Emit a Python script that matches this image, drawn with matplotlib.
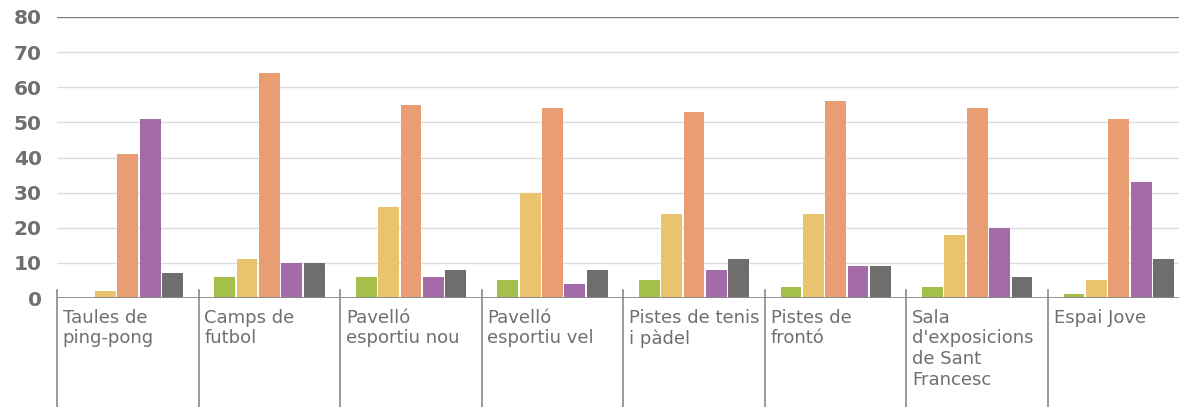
import numpy as np
import matplotlib.pyplot as plt
from matplotlib.lines import Line2D

categories = ["Taules de\nping-pong", "Camps de\nfutbol", "Pavelló\nesportiu nou",
              "Pavelló\nesportiu vel", "Pistes de tenis\ni pàdel", "Pistes de\nfrontó",
              "Sala\nd'exposicions\nde Sant\nFrancesc", "Espai Jove"]
green = [0, 6, 6, 5, 5, 3, 3, 1]
yellow = [2, 11, 26, 30, 24, 24, 18, 5]
orange = [41, 64, 55, 54, 53, 56, 54, 51]
purple = [51, 10, 6, 4, 8, 9, 20, 33]
grey = [7, 10, 8, 8, 11, 9, 6, 11]
yticks = [0, 10, 20, 30, 40, 50, 60, 70, 80]

series = [green, yellow, orange, purple, grey]
colors = ["#a5c04a", "#e9c36e", "#e89d73", "#a36baa", "#706e6c"]
text_col = "#6f6f6f"

fig = plt.figure(figsize=(11.79, 4.07), dpi=100)
W, H = 1179, 407
ax = fig.add_axes([57 / W, (H - 298) / H, (1189.6 - 57) / W, (298 - 17) / H])

x = np.arange(len(categories))
slot = 0.158
for i, (vals, c) in enumerate(zip(series, colors)):
    ax.bar(x + (i - 2) * slot, vals, width=slot * 0.93, color=c, zorder=3)

ax.set_xlim(-0.5, len(categories) - 0.5)
ax.set_ylim(0, 80)
ax.set_yticks(yticks)
ax.set_yticklabels([str(t) for t in yticks], fontsize=14.5, fontweight="bold",
                   color=text_col, family="DejaVu Sans")
ax.tick_params(axis="y", length=0, pad=11)
ax.set_xticks([])
for t in yticks[1:-1]:
    ax.axhline(t, color="#dcdcdc", lw=1, zorder=1)
ax.axhline(80, color="#7f7f7f", lw=1, zorder=1)
for s in ax.spines.values():
    s.set_visible(False)
ax.axhline(0, color="#8a8a8a", lw=2, zorder=4)

# group separators and labels below the axis
for k in range(len(categories) + 1):
    ax.add_line(Line2D([k - 0.5, k - 0.5], [2.3, -40], color="#8a8a8a", lw=1.2,
                       clip_on=False))
for k, lab in enumerate(categories):
    ax.text(k - 0.5 + 0.04, -3.0, lab, ha="left", va="top", fontsize=13,
            color=text_col, linespacing=1.2, family="DejaVu Sans")

fig.savefig("out.png", dpi=100)
